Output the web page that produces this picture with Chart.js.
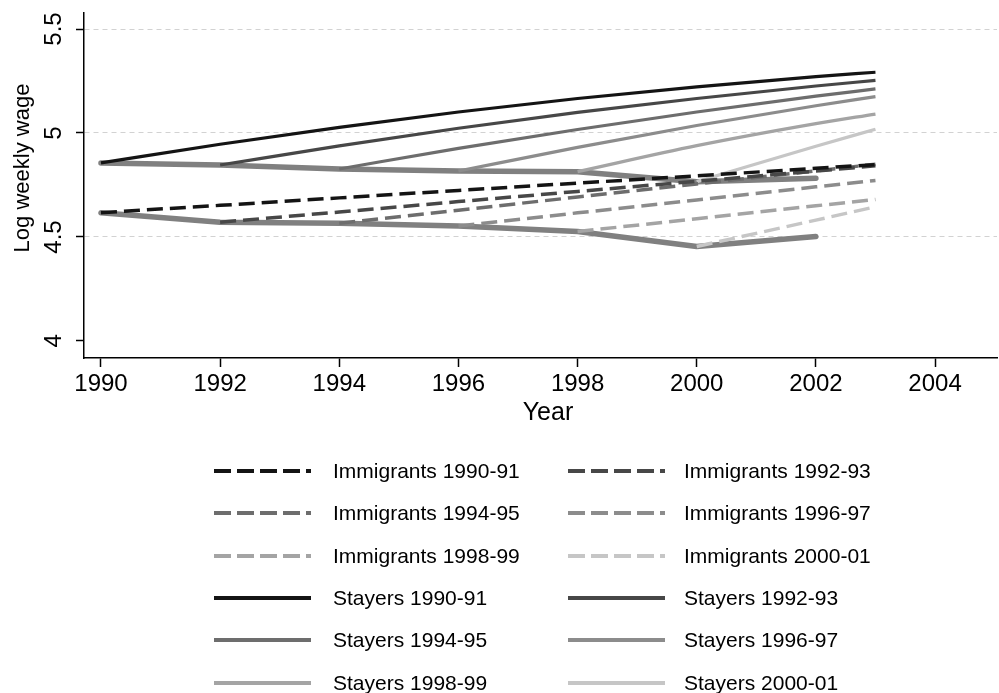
<!DOCTYPE html>
<html>
<head>
<meta charset="utf-8">
<title>Log weekly wage by year</title>
<script src="https://cdn.jsdelivr.net/npm/chart.js@4.4.1/dist/chart.umd.min.js"></script>
<style>
  html, body { margin: 0; padding: 0; background: #fff; }
  #wrap { position: relative; width: 999px; height: 693px; overflow: hidden; }
  #c { position: absolute; left: 0; top: 0; }
  #legend { position: absolute; left: 0; top: 0; width: 999px; height: 693px; pointer-events: none;
            font-family: "Liberation Sans", Arial, sans-serif; font-size: 21px; color: #000; }
  .lg-line { position: absolute; }
  .lg-text { position: absolute; white-space: nowrap; line-height: 30px; height: 30px; }
</style>
</head>
<body>
<div id="wrap">
  <canvas id="c" width="999" height="693"></canvas>
  <div id="legend"></div>
</div>
<script>
// Survey years at which each profile is evaluated
const years = [1990, 1992, 1994, 1996, 1998, 2000, 2002, 2003];

// Entry-year wage levels (thick grey reference paths)
const stayersBase    = [4.856, 4.846, 4.827, 4.817, 4.814, 4.766, 4.782, null];
const immigrantsBase = [4.617, 4.571, 4.566, 4.553, 4.526, 4.454, 4.502, null];

// Wage profiles of immigrant cohorts (dashed)
const imm9091 = [4.617, 4.652, 4.688, 4.724, 4.759, 4.794, 4.830, 4.848];
const imm9293 = [null, 4.571, 4.620, 4.670, 4.719, 4.768, 4.817, 4.842];
const imm9495 = [null, null, 4.566, 4.629, 4.692, 4.755, 4.818, 4.850];
const imm9697 = [null, null, null, 4.553, 4.616, 4.678, 4.741, 4.772];
const imm9899 = [null, null, null, null, 4.526, 4.588, 4.650, 4.680];
const imm0001 = [null, null, null, null, null, 4.454, 4.581, 4.645];

// Wage profiles of stayer cohorts (solid)
const stay9091 = [4.856, 4.946, 5.027, 5.101, 5.166, 5.222, 5.271, 5.292];
const stay9293 = [null, 4.846, 4.938, 5.023, 5.099, 5.166, 5.226, 5.253];
const stay9495 = [null, null, 4.827, 4.926, 5.017, 5.101, 5.177, 5.212];
const stay9697 = [null, null, null, 4.817, 4.931, 5.036, 5.131, 5.175];
const stay9899 = [null, null, null, null, 4.814, 4.939, 5.045, 5.091];
const stay0001 = [null, null, null, null, null, 4.766, 4.936, 5.018];

// Axis ticks
const xTicks = [1990, 1992, 1994, 1996, 1998, 2000, 2002, 2004];
const xTickLabels = ['1990', '1992', '1994', '1996', '1998', '2000', '2002', '2004'];
const yTicks = [4, 4.5, 5, 5.5];
const yTickLabels = ['4', '4.5', '5', '5.5'];

const cohortLabels = ['1990-91', '1992-93', '1994-95', '1996-97', '1998-99', '2000-01'];
const cohortColors = ['#141414', '#474747', '#6d6d6d', '#8c8c8c', '#a4a4a4', '#c6c6c6'];
const baseColor = '#808080';
const FONT = '"Liberation Sans", Arial, sans-serif';

function points(values) {
  const out = [];
  values.forEach((v, i) => { if (v !== null) out.push({ x: years[i], y: v }); });
  return out;
}

const immSeries = [imm9091, imm9293, imm9495, imm9697, imm9899, imm0001];
const staySeries = [stay9091, stay9293, stay9495, stay9697, stay9899, stay0001];

const datasets = [];
immSeries.forEach((s, i) => datasets.push({
  label: 'Immigrants ' + cohortLabels[i], data: points(s), legend: true,
  borderColor: cohortColors[i], borderWidth: 3.5, borderDash: [16, 7],
  tension: 0, order: 2
}));
staySeries.forEach((s, i) => datasets.push({
  label: 'Stayers ' + cohortLabels[i], data: points(s), legend: true,
  borderColor: cohortColors[i], borderWidth: 3.2, borderDash: [],
  cubicInterpolationMode: 'monotone', order: 3
}));
datasets.push({ label: 'stayers-base', data: points(stayersBase), legend: false,
  borderColor: baseColor, borderWidth: 5.5, borderCapStyle: 'round', tension: 0, order: 10 });
datasets.push({ label: 'immigrants-base', data: points(immigrantsBase), legend: false,
  borderColor: baseColor, borderWidth: 5.5, borderCapStyle: 'round', tension: 0, order: 10 });

// Axis titles drawn next to the scales
const axisTitles = {
  id: 'axisTitles',
  afterDraw(chart) {
    const { ctx } = chart;
    ctx.save();
    ctx.fillStyle = '#000';
    ctx.textAlign = 'center';
    ctx.textBaseline = 'middle';
    ctx.font = '25px ' + FONT;
    ctx.fillText('Year', 548, 413);
    ctx.translate(23, 168);
    ctx.rotate(-Math.PI / 2);
    ctx.font = '22px ' + FONT;
    ctx.fillText('Log weekly wage', 0, 0);
    ctx.restore();
  }
};

const chart = new Chart(document.getElementById('c'), {
  type: 'scatter',
  data: { datasets },
  options: {
    responsive: false,
    devicePixelRatio: 1,
    animation: false,
    layout: { padding: { top: 13, right: 2, bottom: 0, left: 0 } },
    elements: {
      point: { radius: 0, hoverRadius: 0 },
      line: { fill: false, borderJoinStyle: 'round' }
    },
    datasets: { scatter: { showLine: true } },
    plugins: { legend: { display: false }, tooltip: { enabled: false } },
    scales: {
      x: {
        type: 'linear', min: 1989.715, max: 2005.04,
        afterFit: s => { s.height = 335; s.paddingLeft = 0; s.paddingRight = 0; },
        afterBuildTicks: s => { s.ticks = xTicks.map(v => ({ value: v })); },
        ticks: {
          color: '#000', padding: 3, maxRotation: 0, autoSkip: false,
          font: { family: FONT, size: 24 },
          callback: (v) => xTickLabels[xTicks.indexOf(v)]
        },
        grid: { drawOnChartArea: false, tickLength: 9, tickColor: '#000', tickWidth: 1.5 },
        border: { color: '#000', width: 1.5 }
      },
      y: {
        type: 'linear', min: 3.918, max: 5.577,
        afterFit: s => { s.width = 84; s.paddingTop = 0; s.paddingBottom = 0; },
        afterBuildTicks: s => { s.ticks = yTicks.map(v => ({ value: v })); },
        ticks: {
          color: '#000', padding: 5, minRotation: 90, maxRotation: 90, crossAlign: 'center',
          font: { family: FONT, size: 24 },
          callback: (v) => yTickLabels[yTicks.indexOf(v)]
        },
        grid: {
          color: c => (c.tick && c.tick.value === 4) ? 'rgba(0,0,0,0)' : '#d2d2d2',
          lineWidth: 1, tickLength: 8, tickColor: '#000', tickWidth: 1.5
        },
        border: { color: '#000', width: 1.5, dash: [5, 4] }
      }
    }
  },
  plugins: [axisTitles]
});

// Two-column key built from the chart's own series
(function buildLegend() {
  const host = document.getElementById('legend');
  const items = chart.data.datasets.filter(d => d.legend);
  const colLine = [214, 568];
  const colText = [333, 684];
  const rowY0 = 471, rowStep = 42.3;
  items.forEach((d, i) => {
    const row = Math.floor(i / 2), col = i % 2;
    const cy = rowY0 + row * rowStep;
    const ns = 'http://www.w3.org/2000/svg';
    const svg = document.createElementNS(ns, 'svg');
    svg.setAttribute('width', '98');
    svg.setAttribute('height', '10');
    svg.setAttribute('class', 'lg-line');
    svg.style.left = colLine[col] + 'px';
    svg.style.top = (cy - 5) + 'px';
    const ln = document.createElementNS(ns, 'line');
    ln.setAttribute('x1', '0'); ln.setAttribute('y1', '5');
    ln.setAttribute('x2', '97'); ln.setAttribute('y2', '5');
    ln.setAttribute('stroke', d.borderColor);
    ln.setAttribute('stroke-width', '4');
    if (d.borderDash && d.borderDash.length) ln.setAttribute('stroke-dasharray', '17 6');
    svg.appendChild(ln);
    host.appendChild(svg);
    const t = document.createElement('div');
    t.className = 'lg-text';
    t.textContent = d.label;
    t.style.left = colText[col] + 'px';
    t.style.top = (cy - 15) + 'px';
    host.appendChild(t);
  });
})();
</script>
</body>
</html>
